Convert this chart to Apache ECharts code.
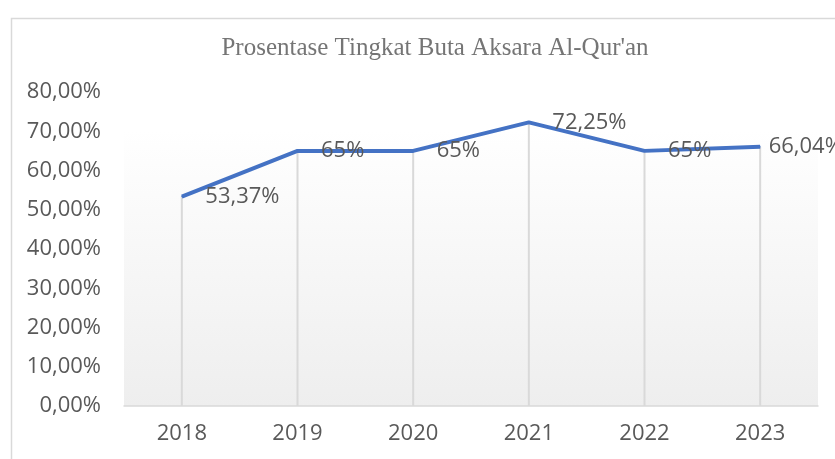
<!DOCTYPE html>
<html>
<head>
<meta charset="utf-8">
<script src="https://cdn.jsdelivr.net/npm/echarts@6/dist/echarts.min.js"></script>
<style>
  html, body { margin: 0; padding: 0; background: #fff; }
  #chart { width: 835px; height: 459px; }
</style>
</head>
<body>
<div id="chart"></div>
<script>
var years = ['2018', '2019', '2020', '2021', '2022', '2023'];
var persen = [53.37, 65, 65, 72.25, 65, 66.04];
var titleText = "Prosentase Tingkat Buta Aksara Al-Qur'an";

var chart = echarts.init(document.getElementById('chart'));

function fmtPct(v) {
    return String(v).replace('.', ',') + '%';
}

var lineData = persen.map(function(v, i) {
    // label tahun terakhir lebih rapat ke titik
    if (i == persen.length - 1) {
        return { value: v, label: { distance: 8 } };
    }
    return v;
});

var option = {
    animation: false,
    backgroundColor: '#ffffff',
    textStyle: { fontFamily: 'Open Sans' },
    title: {
        text: titleText,
        left: 430,
        textAlign: 'center',
        top: 31,
        textStyle: {
            fontFamily: 'Liberation Serif',
            fontWeight: 'normal',
            fontSize: 25,
            color: '#757575'
        }
    },
    graphic: [{
        type: 'rect',
        left: 9,
        top: 16,
        shape: { width: 900, height: 500 },
        style: { fill: 'none', stroke: '#d9d9d9', lineWidth: 1.5 },
        z: -1
    }],
    grid: {
        left: 124,
        right: 17,
        top: 92,
        bottom: 53,
        show: true,
        borderWidth: 0,
        backgroundColor: new echarts.graphic.LinearGradient(0, 0, 0, 1, [
            { offset: 0, color: '#ffffff' },
            { offset: 0.12, color: '#ffffff' },
            { offset: 1, color: '#eeeeee' }
        ])
    },
    xAxis: {
        type: 'category',
        data: years,
        boundaryGap: true,
        axisLine: { lineStyle: { color: '#d9d9d9', width: 1.5 } },
        axisTick: { show: false },
        axisLabel: { fontSize: 22, color: '#595959', margin: 17 }
    },
    yAxis: {
        type: 'value',
        min: 0,
        max: 80,
        interval: 10,
        splitLine: { show: false },
        axisLine: { show: false },
        axisTick: { show: false },
        axisLabel: {
            fontSize: 22,
            color: '#595959',
            margin: 23,
            formatter: function(v) { return v.toFixed(2).replace('.', ',') + '%'; }
        }
    },
    series: [{
        // garis jatuh dari titik ke sumbu
        type: 'bar',
        data: persen,
        barWidth: 2,
        silent: true,
        itemStyle: { color: '#d9d9d9' },
        z: 1
    }, {
        type: 'line',
        data: lineData,
        symbol: 'circle',
        symbolSize: 1,
        showSymbol: true,
        lineStyle: { color: '#4472c4', width: 4 },
        itemStyle: { color: '#4472c4' },
        z: 3,
        label: {
            show: true,
            position: 'right',
            distance: 23,
            fontSize: 22,
            color: '#595959',
            formatter: function(p) { return fmtPct(p.value); }
        }
    }]
};

chart.setOption(option);
</script>
</body>
</html>
